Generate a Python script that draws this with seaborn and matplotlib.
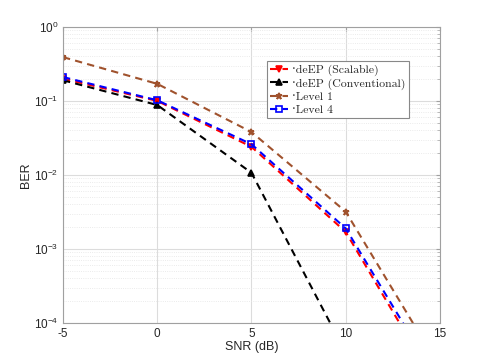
import numpy as np
import pandas as pd
import seaborn as sns
import matplotlib.pyplot as plt
from matplotlib.ticker import LogLocator, NullFormatter

# data
snr = [-5, 0, 5, 10, 15]
ber_scalable = [0.20, 0.100, 0.024, 0.0017, 1.2e-5]
ber_conventional = [0.19, 0.088, 0.0107, 4.0e-5, 1.0e-7]
ber_level1 = [0.39, 0.17, 0.038, 0.0032, 2.5e-5]
ber_level4 = [0.21, 0.102, 0.026, 0.0019, 1.5e-5]

labels = ['·deEP (Scalable)', '·deEP (Conventional)', '·Level 1', '·Level 4']

sns.set_style("white")
plt.rcParams['font.family'] = ['Liberation Sans', 'DejaVu Sans']
plt.rcParams['axes.unicode_minus'] = False

fig = plt.figure(figsize=(4.85, 3.63), dpi=100)
ax = fig.add_axes([0.13, 0.11, 0.777, 0.816])

styles = [
    (ber_scalable, 'red', 'v', 'red'),
    (ber_conventional, 'black', '^', 'black'),
    (ber_level1, '#a0522d', '*', '#a0522d'),
    (ber_level4, 'blue', 's', 'none'),
]
for (vals, col, mk, face), lab in zip(styles, labels):
    sns.lineplot(x=snr, y=vals, ax=ax, color=col, marker=mk, markersize=5,
                 markerfacecolor=face, markeredgecolor=col, markeredgewidth=1.2,
                 linestyle='--', linewidth=1.5, label=lab)
for line in ax.get_lines():
    line.set_dashes((3.5, 2.5))

ax.set_yscale('log')
ax.set_xlim(-5, 15)
ax.set_ylim(1e-4, 1)
ax.set_xticks([-5, 0, 5, 10, 15])
ax.yaxis.set_major_locator(LogLocator(base=10, numticks=10))
ax.yaxis.set_minor_locator(LogLocator(base=10, subs=np.arange(2, 10), numticks=10))
ax.yaxis.set_minor_formatter(NullFormatter())

ax.grid(True, which='major', color='#dcdcdc', linewidth=0.8, linestyle='-')
ax.grid(True, which='minor', color='#e4e4e4', linewidth=0.6, linestyle=':')
ax.set_axisbelow(True)

for s in ax.spines.values():
    s.set_color('#a0a0a0')
    s.set_linewidth(0.8)
ax.tick_params(which='both', direction='in', top=True, right=True, colors='#262626',
               labelsize=8.5, length=3)
ax.tick_params(which='major', color='#a0a0a0')
ax.tick_params(which='minor', color='#b0b0b0', length=2)

ax.set_xlabel('SNR (dB)', fontsize=9, color='#262626', labelpad=1)
ax.set_ylabel('BER', fontsize=9, color='#262626', labelpad=1)

leg = ax.legend(loc='upper left', bbox_to_anchor=(0.525, 0.905),
                prop={'family': ['cmr10', 'DejaVu Serif'], 'size': 8.5},
                frameon=True, fancybox=False, edgecolor='#888888', framealpha=1,
                handlelength=1.5, handletextpad=0.3, borderpad=0.3, labelspacing=0.2)
leg.get_frame().set_linewidth(0.8)

fig.savefig('out.png', dpi=100)
